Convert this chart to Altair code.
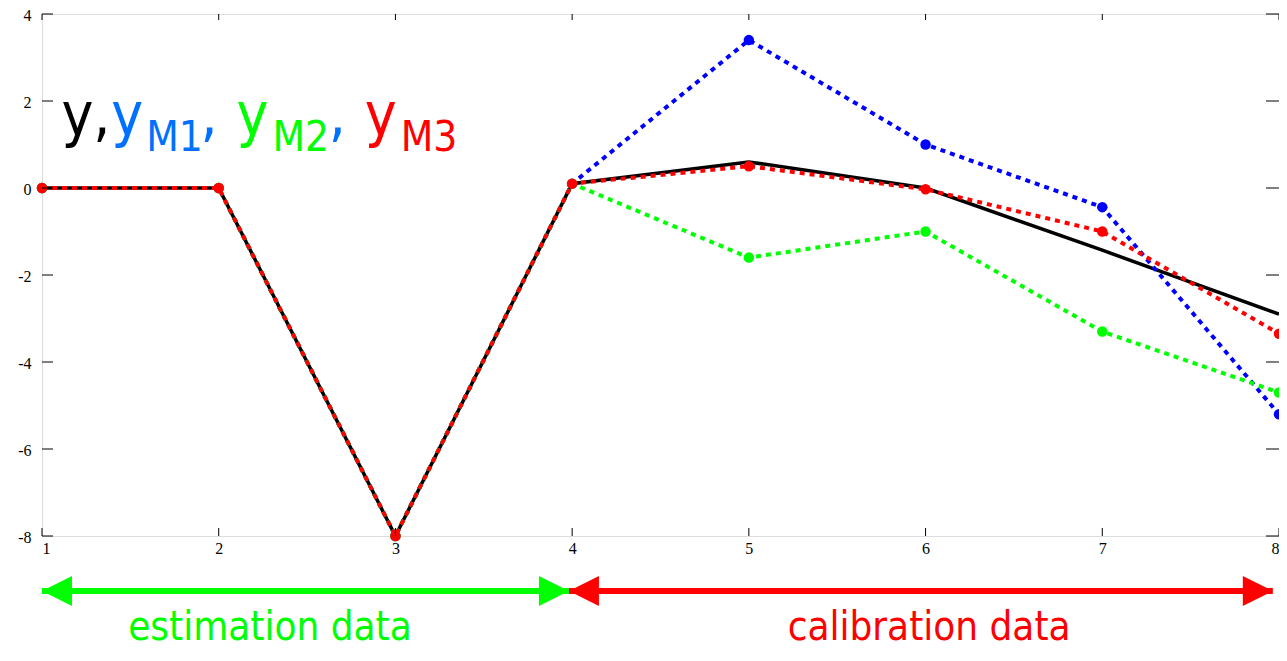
import altair as alt
import pandas as pd

# ---- data ----
x_vals = [1, 2, 3, 4, 5, 6, 7, 8]
y_true = [0, 0, -8, 0.1, 0.6, 0.0, -1.43, -2.9]
y_m1 = [0, 0, -8, 0.1, 3.4, 1.0, -0.44, -5.2]
y_m2 = [0, 0, -8, 0.1, -1.6, -1.0, -3.3, -4.7]
y_m3 = [0, 0, -8, 0.1, 0.5, -0.03, -1.0, -3.35]

x_ticks = [1, 2, 3, 4, 5, 6, 7, 8]
y_ticks = [-8, -6, -4, -2, 0, 2, 4]

# legend-like label pieces
lab_text = ["y,", "y", "M1", ",", "y", "M2", ",", "y", "M3"]
lab_color = ["#000000", "#0070FF", "#0070FF", "#0070FF", "#00FF00", "#00FF00",
             "#0070FF", "#FF0000", "#FF0000"]
lab_size = [60, 60, 42, 60, 60, 42, 60, 60, 42]
lab_x = [1.110, 1.392, 1.590, 1.897, 2.100, 2.304, 2.622, 2.826, 3.030]
lab_y = [1.218, 1.218, 0.851, 1.218, 1.218, 0.851, 1.218, 1.218, 0.851]

# bottom arrows / captions (data coordinates)
arrow_start = [1.0, 3.982]
arrow_end = [3.982, 7.965]
arrow_color = ["#00FF00", "#FF0000"]
arrow_level = -9.264
cap_text = ["estimation data", "calibration data"]
cap_x = [2.29, 6.02]
cap_color = ["#00FF00", "#FF0000"]
cap_level = -10.39

W, H = 1237, 522
SANS = "DejaVu Sans Condensed, DejaVu Sans"
SERIF = "Liberation Serif"

xs = alt.Scale(domain=[1, 8], nice=False, zero=False)
ys = alt.Scale(domain=[-8, 4], nice=False, zero=False)

x_axis = alt.Axis(values=x_ticks, ticks=False, domain=False, grid=False,
                  labelFont=SERIF, labelFontSize=16, labelPadding=4,
                  labelColor="black", labelExpr="'' + datum.value", title=None)
y_axis = alt.Axis(values=y_ticks, ticks=False, domain=False, grid=False,
                  labelFont=SERIF, labelFontSize=16, labelPadding=11, labelOffset=1.5,
                  labelColor="black", labelExpr="'' + datum.value", title=None)


def X(f="x"):
    return alt.X(f"{f}:Q", scale=xs, axis=x_axis)


def Y(f="y"):
    return alt.Y(f"{f}:Q", scale=ys, axis=y_axis)


def sdf(vals):
    return pd.DataFrame({"x": x_vals, "y": vals})


layers = []

# black measured output (solid, no markers)
layers.append(alt.Chart(sdf(y_true)).mark_line(color="black", strokeWidth=3.5)
              .encode(x=X(), y=Y()))

for vals, col in [(y_m1, "#0000FF"), (y_m2, "#00FF00"), (y_m3, "#FF0000")]:
    d = sdf(vals)
    layers.append(alt.Chart(d).mark_line(color=col, strokeWidth=4, strokeDash=[5, 5])
                  .encode(x=X(), y=Y()))
    layers.append(alt.Chart(d).mark_point(filled=True, size=110, color=col, opacity=1)
                  .encode(x=X(), y=Y()))

# inward ticks on all four sides
yt = pd.DataFrame({"v": y_ticks})
xt = pd.DataFrame({"v": x_ticks})
layers.append(alt.Chart(yt).mark_rule(color="black", strokeWidth=1)
              .encode(y=Y("v"), x=alt.value(0), x2=alt.value(11)))
layers.append(alt.Chart(yt).mark_rule(color="black", strokeWidth=1)
              .encode(y=Y("v"), x=alt.value(W - 13), x2=alt.value(W)))
layers.append(alt.Chart(xt).mark_rule(color="black", strokeWidth=1)
              .encode(x=X("v"), y=alt.value(0), y2=alt.value(6)))
layers.append(alt.Chart(xt).mark_rule(color="black", strokeWidth=1)
              .encode(x=X("v"), y=alt.value(H - 8), y2=alt.value(H)))

# label y, yM1, yM2, yM3
lab = pd.DataFrame({"x": lab_x, "y": lab_y, "t": lab_text, "c": lab_color, "s": lab_size})
layers.append(alt.Chart(lab).mark_text(font=SANS, align="left", baseline="alphabetic", clip=False)
              .encode(x=X(), y=Y(), text="t:N",
                      color=alt.Color("c:N", scale=None),
                      size=alt.Size("s:Q", scale=None)))

# arrows
arr = pd.DataFrame({"x": arrow_start, "x2": arrow_end, "y": [arrow_level] * 2, "c": arrow_color})
layers.append(alt.Chart(arr).mark_rule(strokeWidth=6, clip=False)
              .encode(x=X(), x2="x2:Q", y=Y(), color=alt.Color("c:N", scale=None)))
left_heads = pd.DataFrame({"x": arrow_start, "y": [arrow_level] * 2, "c": arrow_color})
right_heads = pd.DataFrame({"x": arrow_end, "y": [arrow_level] * 2, "c": arrow_color})
layers.append(alt.Chart(left_heads).mark_point(shape="M0,0L2,-1L2,1Z", filled=True, size=900,
                                               opacity=1, strokeWidth=0, clip=False)
              .encode(x=X(), y=Y(), color=alt.Color("c:N", scale=None)))
layers.append(alt.Chart(right_heads).mark_point(shape="M0,0L-2,-1L-2,1Z", filled=True, size=900,
                                                opacity=1, strokeWidth=0, clip=False)
              .encode(x=X(), y=Y(), color=alt.Color("c:N", scale=None)))

# captions
cap = pd.DataFrame({"x": cap_x, "y": [cap_level] * 2, "t": cap_text, "c": cap_color})
layers.append(alt.Chart(cap).mark_text(font=SANS, fontSize=40, align="center",
                                       baseline="alphabetic", clip=False)
              .encode(x=X(), y=Y(), text="t:N", color=alt.Color("c:N", scale=None)))

chart = alt.layer(*layers).properties(
    width=W, height=H,
    padding={"left": 34, "top": 6, "right": 0, "bottom": 114},
    autosize=alt.AutoSizeParams(type="none"),
).configure_view(stroke="black", strokeWidth=1.5).configure(background="white")

chart.save("out.html", embed_options={"renderer": "svg", "actions": False})
